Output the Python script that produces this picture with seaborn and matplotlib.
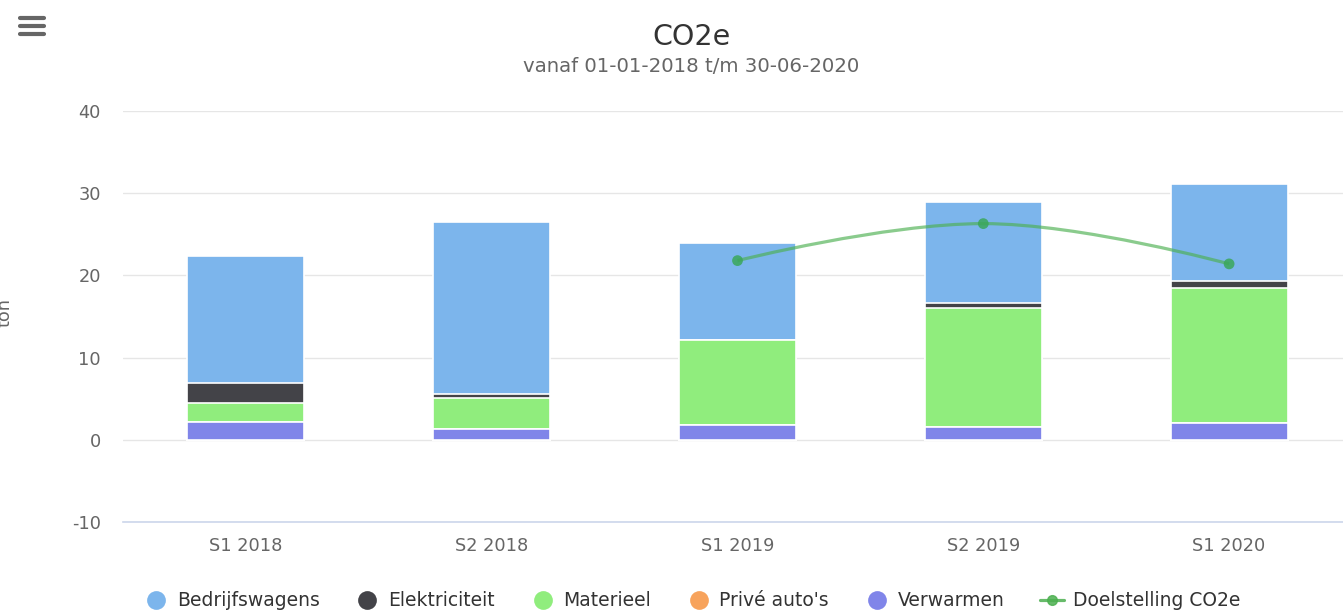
import numpy as np
import matplotlib
matplotlib.use("Agg")
import matplotlib.pyplot as plt
from matplotlib.lines import Line2D
from matplotlib.path import Path
from matplotlib.patches import PathPatch
import seaborn as sns

# data (ton CO2e per half year)
periods = ["S1 2018", "S2 2018", "S1 2019", "S2 2019", "S1 2020"]
bedrijfswagens = [15.4, 20.9, 11.8, 12.2, 11.8]
elektriciteit = [2.4, 0.5, 0.0, 0.7, 0.8]
materieel = [2.3, 3.8, 10.3, 14.5, 16.5]
prive_autos = [0.0, 0.0, 0.0, 0.0, 0.0]
verwarmen = [2.2, 1.3, 1.8, 1.5, 2.0]
doelstelling = [np.nan, np.nan, 21.8, 26.3, 21.4]
y_ticks = [-10, 0, 10, 20, 30, 40]

series_names = ["Bedrijfswagens", "Elektriciteit", "Materieel", "Privé auto's", "Verwarmen"]
series_vals = [bedrijfswagens, elektriciteit, materieel, prive_autos, verwarmen]
colors = ["#7cb5ec", "#434348", "#90ed7d", "#f7a35c", "#8085e9"]
green = "#4cb050"

sns.set_style("white")
plt.rcParams["font.family"] = ["DejaVu Sans"]
plt.rcParams["axes.unicode_minus"] = False

W, H = 1343, 610
fig = plt.figure(figsize=(W / 100, H / 100), dpi=100)
# plot area runs a bit past the right edge of the picture (cropped chart)
ax = fig.add_axes([123 / W, 88 / H, (1352 - 123) / W, 411 / H])

# stacked bars: Verwarmen at the bottom, Bedrijfswagens on top
stack = np.cumsum(np.array(series_vals[::-1]), axis=0)[::-1]
for name, tops, col in zip(series_names, stack, colors):
    sns.barplot(x=periods, y=tops, color=col, saturation=1, width=0.476,
                edgecolor="white", linewidth=1.2, ax=ax, zorder=2)


def spline_path(xs, ys, smoothing=1.5):
    # highcharts-style spline through the points
    n = len(xs)
    left, right = [None] * n, [None] * n
    d = smoothing + 1
    for i in range(1, n - 1):
        lx = (smoothing * xs[i] + xs[i - 1]) / d
        ly = (smoothing * ys[i] + ys[i - 1]) / d
        rx = (smoothing * xs[i] + xs[i + 1]) / d
        ry = (smoothing * ys[i] + ys[i + 1]) / d
        corr = ((ry - ly) * (rx - xs[i])) / (rx - lx) + ys[i] - ry
        ly += corr
        ry += corr
        if ly > ys[i - 1] and ly > ys[i]:
            ly = max(ys[i - 1], ys[i])
            ry = 2 * ys[i] - ly
        elif ly < ys[i - 1] and ly < ys[i]:
            ly = min(ys[i - 1], ys[i])
            ry = 2 * ys[i] - ly
        if ry > ys[i + 1] and ry > ys[i]:
            ry = max(ys[i + 1], ys[i])
            ly = 2 * ys[i] - ry
        elif ry < ys[i + 1] and ry < ys[i]:
            ry = min(ys[i + 1], ys[i])
            ly = 2 * ys[i] - ry
        left[i], right[i] = (lx, ly), (rx, ry)
    verts, codes = [(xs[0], ys[0])], [Path.MOVETO]
    for i in range(1, n):
        c1 = right[i - 1] or (xs[i - 1], ys[i - 1])
        c2 = left[i] or (xs[i], ys[i])
        verts += [c1, c2, (xs[i], ys[i])]
        codes += [Path.CURVE4] * 3
    return Path(verts, codes)


tx = [i for i, v in enumerate(doelstelling) if not np.isnan(v)]
ty = [doelstelling[i] for i in tx]
ax.add_patch(PathPatch(spline_path(tx, ty), fill=False, edgecolor=green,
                       linewidth=2.3, alpha=0.65, zorder=4))
sns.scatterplot(x=tx, y=ty, color="#3aa75a", s=60, alpha=0.85, edgecolor="none",
                ax=ax, zorder=5)

ax.set_xlim(-0.5, 4.5)
ax.set_ylim(-10, 40)
ax.set_yticks(y_ticks)
ax.set_yticklabels([str(t) for t in y_ticks])
ax.set_xlabel("")
ax.set_ylabel("")
ax.grid(axis="y", color="#e6e6e6", linewidth=1, zorder=0)
ax.set_axisbelow(True)
for side in ["top", "right", "left"]:
    ax.spines[side].set_visible(False)
ax.spines["bottom"].set_color("#ccd6eb")
ax.spines["bottom"].set_linewidth(1.2)
ax.tick_params(axis="both", length=0, labelcolor="#666666", labelsize=12.8)
ax.tick_params(axis="y", pad=16)
ax.tick_params(axis="x", pad=11)

fig.text(691 / W, 1 - 37 / H, "CO2e", ha="center", va="center",
         fontsize=20.5, color="#333333")
fig.text(691 / W, 1 - 67 / H, "vanaf 01-01-2018 t/m 30-06-2020", ha="center",
         va="center", fontsize=14.2, color="#666666")
# axis title sits half outside the cropped picture, as in the original
fig.text(4 / W, 1 - 313 / H, "ton", ha="center", va="center", rotation=90,
         fontsize=12.8, color="#666666")

# export menu icon
for yy in [18, 26, 34]:
    fig.add_artist(Line2D([20 / W, 44 / W], [1 - yy / H, 1 - yy / H],
                          color="#666666", linewidth=3, solid_capstyle="round"))

handles = [Line2D([0], [0], marker="o", linestyle="", markersize=13.5,
                  markerfacecolor=c, markeredgecolor="none") for c in colors]
handles.append(Line2D([0], [0], color=green, linewidth=2.3, marker="o",
                      markersize=7, alpha=0.85))
labels = series_names + ["Doelstelling CO2e"]
fig.legend(handles, labels, loc="center", bbox_to_anchor=(692 / W, 1 - 601 / H),
           ncol=6, frameon=False, fontsize=13.5, handlelength=1.3,
           handletextpad=0.45, columnspacing=1.9, labelcolor="#333333")

fig.savefig("out.png", dpi=100)
